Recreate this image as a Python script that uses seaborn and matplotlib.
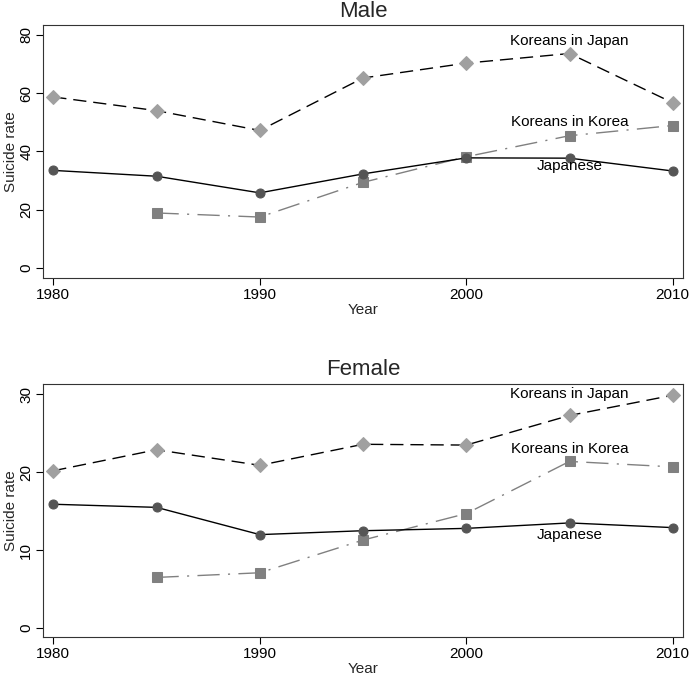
import numpy as np
import pandas as pd
import matplotlib
matplotlib.use('Agg')
import matplotlib.pyplot as plt
import seaborn as sns

# Data
years = [1980, 1985, 1990, 1995, 2000, 2005, 2010]

male_kj = [58.7, 54.0, 47.2, 65.2, 70.3, 73.6, 56.7]
male_kk = [np.nan, 18.9, 17.5, 29.4, 38.2, 45.4, 48.9]
male_jp = [33.5, 31.5, 25.8, 32.3, 37.8, 37.7, 33.3]

female_kj = [20.2, 22.9, 20.9, 23.6, 23.5, 27.3, 29.9]
female_kk = [np.nan, 6.5, 7.1, 11.3, 14.7, 21.4, 20.7]
female_jp = [15.9, 15.5, 12.0, 12.5, 12.8, 13.5, 12.9]

series_names = ['Koreans in Japan', 'Koreans in Korea', 'Japanese']
male_label_y = [77.8, 50.0, 35.0]
female_label_y = [30.0, 23.0, 12.0]

sns.set_theme(style='white')
plt.rcParams['font.family'] = ['Liberation Sans', 'DejaVu Sans']

styles = {
    'Koreans in Japan': dict(color='black', linestyle=(0, (9.5, 5)), marker='D',
                             markersize=7, markerfacecolor='#a0a0a0', markeredgecolor='#a0a0a0'),
    'Koreans in Korea': dict(color='#808080', linestyle=(0, (16, 6, 1.5, 6)), marker='s',
                             markersize=6.5, markerfacecolor='#808080', markeredgecolor='#808080'),
    'Japanese': dict(color='black', linestyle='-', marker='o',
                     markersize=6.5, markerfacecolor='#555555', markeredgecolor='#555555'),
}

fig = plt.figure(figsize=(6.92, 6.76), dpi=100)
ax_top = fig.add_axes([0.0621, 0.5888, 0.925, 0.3743])
ax_bot = fig.add_axes([0.0621, 0.0577, 0.925, 0.3749])


def draw_panel(ax, title, kj, kk, jp, label_y, ylim, yticks):
    df = pd.DataFrame({'Year': years * 3,
                       'rate': kj + kk + jp,
                       'group': [n for n in series_names for _ in years]})
    for name in series_names:
        sub = df[df['group'] == name].dropna()
        sns.lineplot(data=sub, x='Year', y='rate', ax=ax, lw=1.0, **styles[name])
    for name, ly in zip(series_names, label_y):
        ax.text(2005, ly, name, ha='center', va='center', fontsize=11, color='black')
    ax.set_xlim(1979.5, 2010.5)
    ax.set_ylim(*ylim)
    ax.set_xticks([1980, 1990, 2000, 2010])
    ax.set_yticks(yticks)
    ax.set_xlabel('Year', fontsize=11, labelpad=1)
    ax.set_ylabel('Suicide rate', fontsize=11, labelpad=1)
    ax.set_title(title, fontsize=16, pad=6)
    ax.tick_params(axis='both', direction='out', length=5, width=0.8,
                   colors='black', labelsize=11, bottom=True, left=True, pad=2)
    for lab in ax.get_yticklabels():
        lab.set_rotation(90)
        lab.set_va('center')
    for sp in ax.spines.values():
        sp.set_color('#333333')
        sp.set_linewidth(0.8)


draw_panel(ax_top, 'Male', male_kj, male_kk, male_jp, male_label_y,
           (-3.4, 83.4), [0, 20, 40, 60, 80])
draw_panel(ax_bot, 'Female', female_kj, female_kk, female_jp, female_label_y,
           (-1.15, 31.4), [0, 10, 20, 30])

fig.savefig('out.png', dpi=100)
